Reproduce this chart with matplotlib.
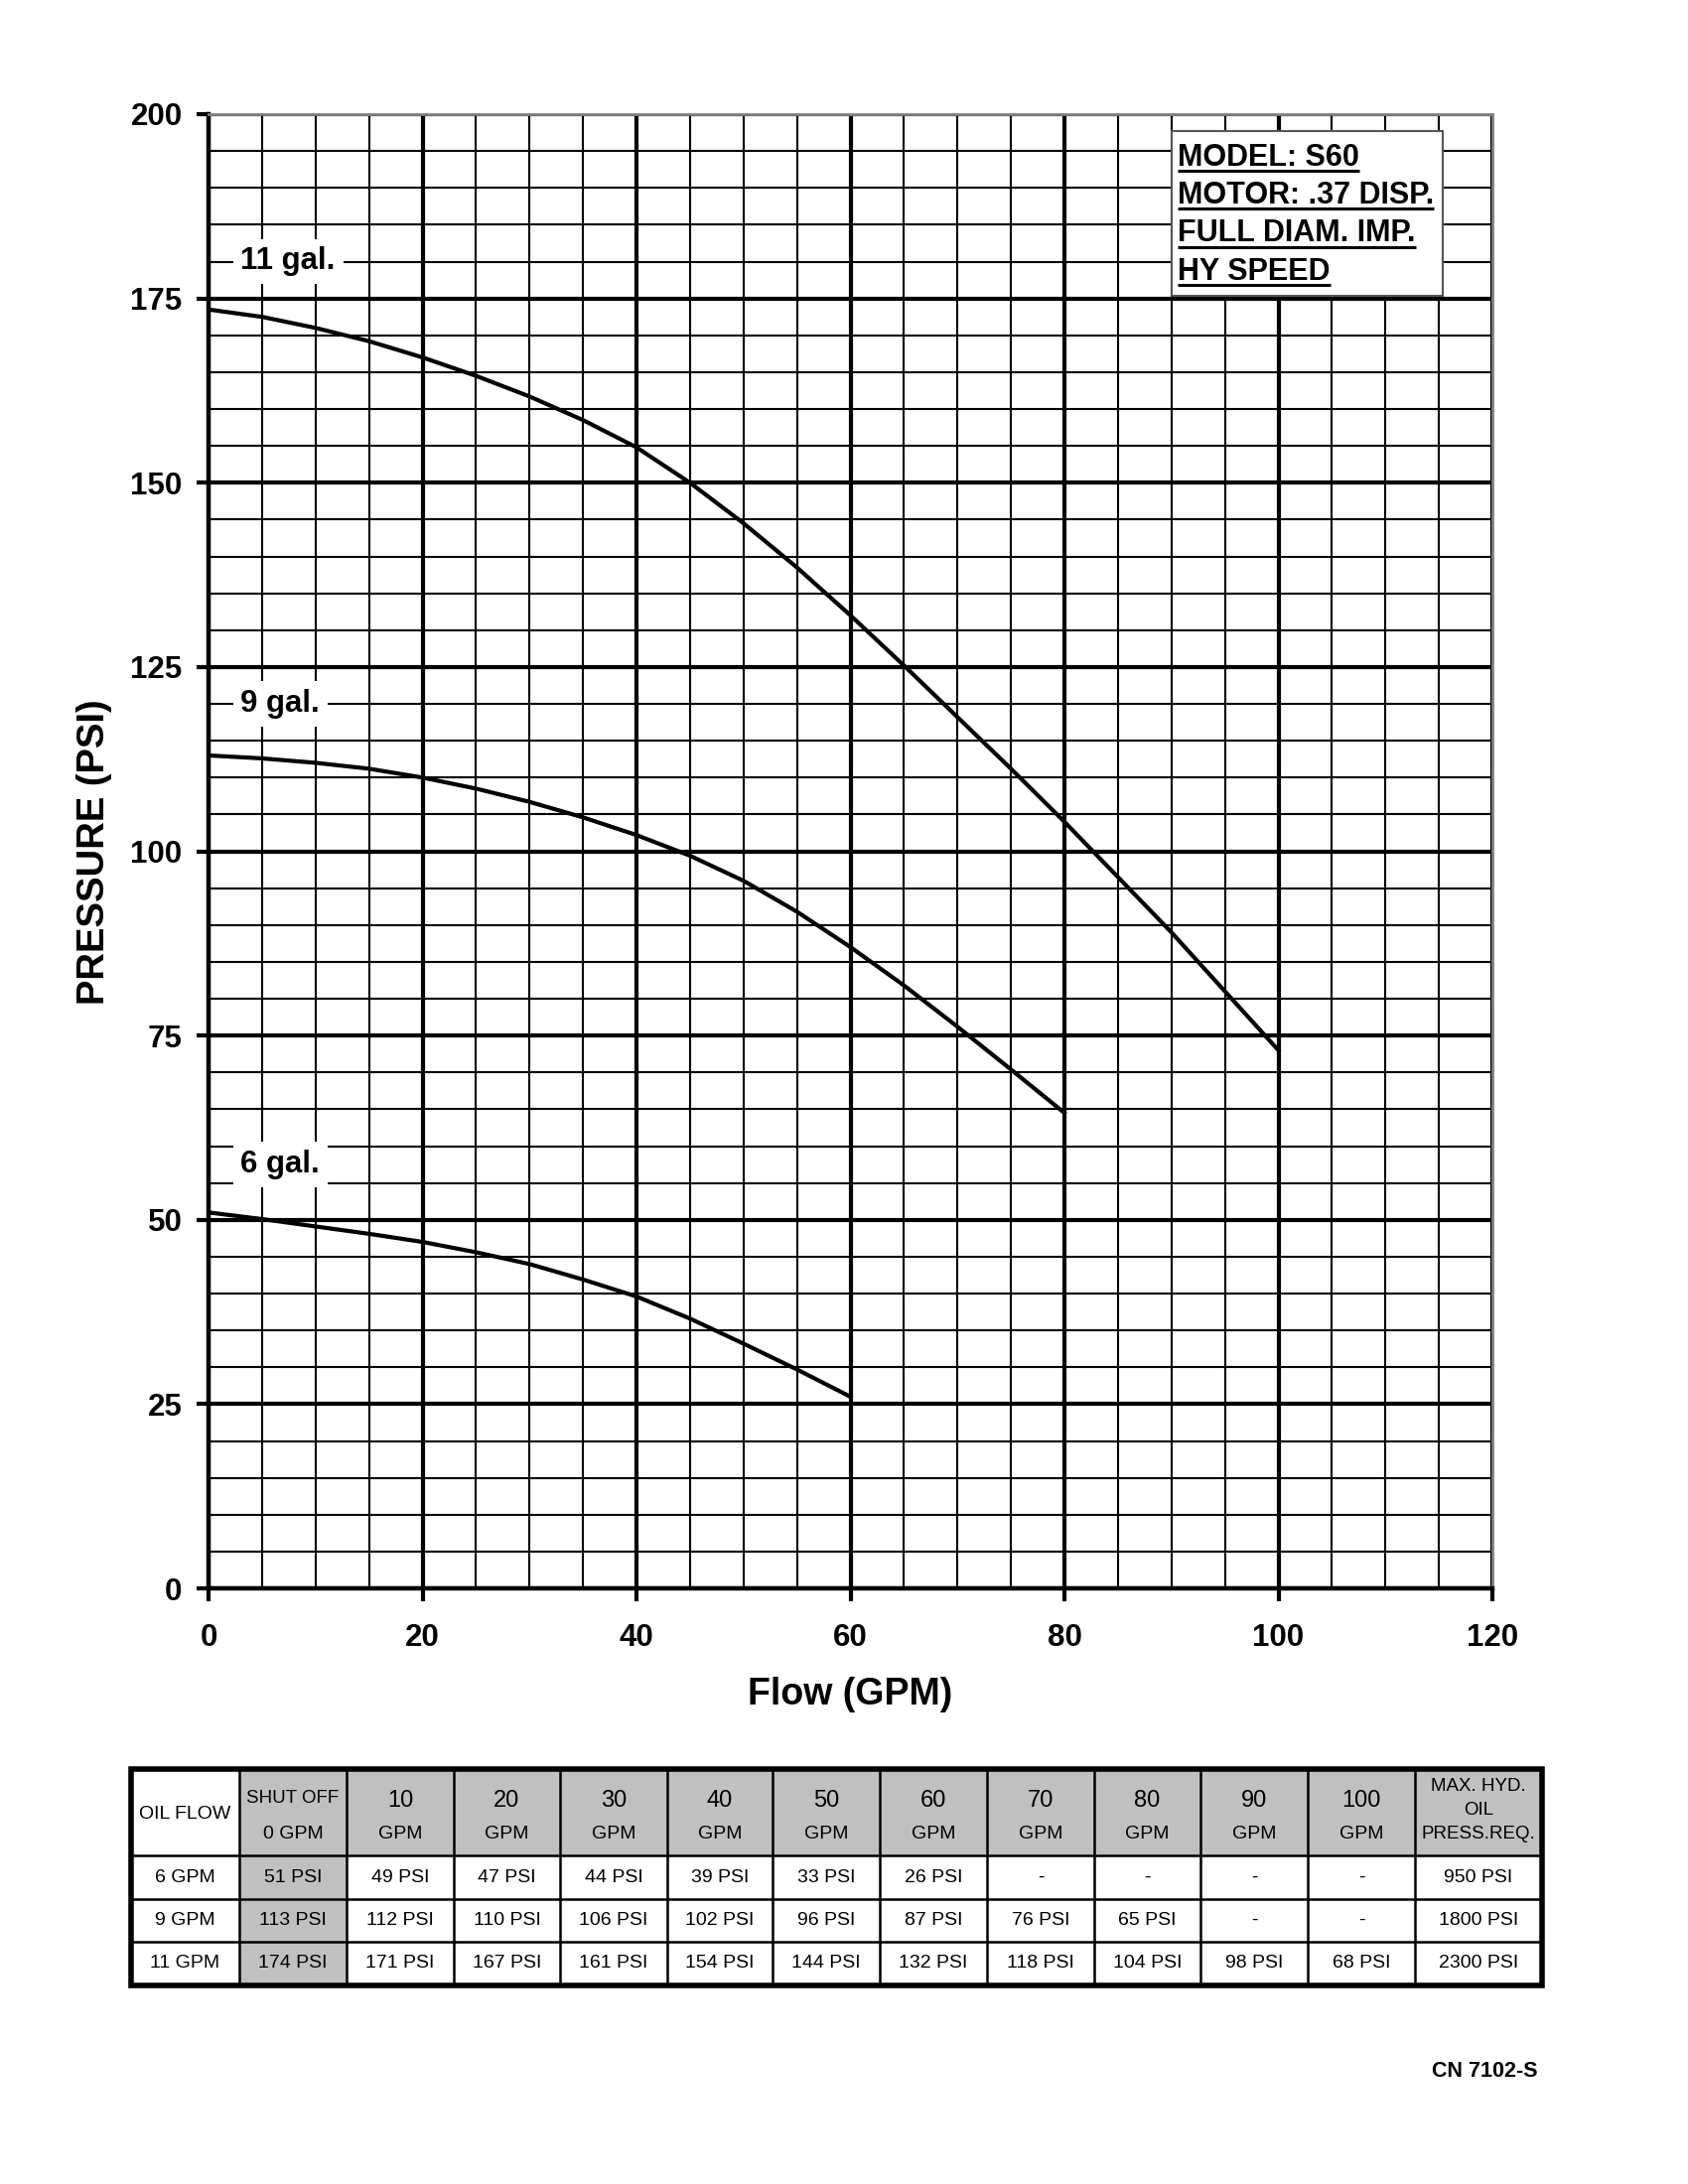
import matplotlib.pyplot as plt
from matplotlib.ticker import MultipleLocator
from matplotlib.patches import Rectangle

plt.rcParams['font.family'] = ['Liberation Sans', 'DejaVu Sans']

# curves (every 5 GPM)
flow_pts = [0, 5, 10, 15, 20, 25, 30, 35, 40, 45, 50, 55, 60, 65, 70, 75, 80, 85, 90, 95, 100]
curve_11 = [173.5, 172.5, 171, 169.2, 167, 164.5, 161.7, 158.5, 154.8, 150, 144.5, 138.5,
            132, 125.2, 118.2, 111.2, 104, 96.5, 89, 81, 73]
curve_9 = [113, 112.6, 112, 111.2, 110, 108.5, 106.7, 104.6, 102.2, 99.4, 96, 91.8, 87,
           81.8, 76.2, 70.4, 64.5]
curve_6 = [51, 50.1, 49.1, 48.1, 47, 45.6, 44, 41.9, 39.6, 36.6, 33.2, 29.7, 26]
curve_names = ["11 gal.", "9 gal.", "6 gal."]

model_lines = ["MODEL: S60", "MOTOR: .37 DISP.", "FULL DIAM. IMP.", "HY SPEED"]

# table
tbl_flows = ["10", "20", "30", "40", "50", "60", "70", "80", "90", "100"]
tbl_rows = ["6 GPM", "9 GPM", "11 GPM"]
tbl_shutoff = [51, 113, 174]
tbl_6 = [49, 47, 44, 39, 33, 26, None, None, None, None]
tbl_9 = [112, 110, 106, 102, 96, 87, 76, 65, None, None]
tbl_11 = [171, 167, 161, 154, 144, 132, 118, 104, 98, 68]
tbl_maxpress = [950, 1800, 2300]

fig = plt.figure(figsize=(17, 22), dpi=100)
fig.set(facecolor='white')

W, H = 1700, 2200
ax = fig.add_axes([210 / W, 1 - 1600 / H, (1503 - 210) / W, (1600 - 115) / H])
ax.set_xlim(0, 120)
ax.set_ylim(0, 200)

ax.xaxis.set_major_locator(MultipleLocator(20))
ax.xaxis.set_minor_locator(MultipleLocator(5))
ax.yaxis.set_major_locator(MultipleLocator(25))
ax.yaxis.set_minor_locator(MultipleLocator(5))
ax.grid(which='major', color='black', lw=3)
ax.grid(which='minor', color='black', lw=1.5)
ax.tick_params(which='major', direction='out', length=9, width=3, labelsize=22.5)
ax.tick_params(axis='y', which='major', pad=10)
ax.tick_params(axis='x', which='major', pad=16)
ax.tick_params(which='minor', length=0)
for lab in ax.get_xticklabels() + ax.get_yticklabels():
    lab.set_fontweight('bold')

for s in ['left', 'bottom']:
    ax.spines[s].set_linewidth(3.2)
for s in ['top', 'right']:
    ax.spines[s].set_linewidth(2)
    ax.spines[s].set_color('#808080')

for curve in [curve_11, curve_9, curve_6]:
    ax.plot(flow_pts[:len(curve)], curve, color='black', lw=3, zorder=4,
            solid_joinstyle='round')

# curve labels
for name, yy in zip(curve_names, [180, 120, 57.5]):
    ax.text(3.0, yy, name, fontsize=22.5, fontweight='bold', ha='left', va='center', zorder=5,
            bbox={'boxstyle': 'square,pad=0.25', 'facecolor': 'white', 'edgecolor': 'none'})

# model box
ax.add_patch(Rectangle((90, 175.4), 25.4, 22.3, facecolor='white', edgecolor='#555555',
                       lw=1.5, zorder=5))
model_txt = []
for i, line in enumerate(model_lines):
    t = ax.text(90.6, 193.0 - i * 5.15, line, fontsize=22, fontweight='bold',
                ha='left', va='baseline', zorder=6)
    model_txt.append(t)

fig.canvas.draw()
r = fig.canvas.get_renderer()
inv = ax.transData.inverted()
for t in model_txt:
    bb = t.get_window_extent(renderer=r)
    x0, _ = inv.transform((bb.x0, bb.y0))
    x1, _ = inv.transform((bb.x1, bb.y0))
    _, yb = t.get_position()
    ax.plot([x0, x1], [yb - 0.7, yb - 0.7], color='black', lw=2.2, zorder=6,
            solid_capstyle='butt')

fig.text(95 / W, 1 - 858 / H, "PRESSURE (PSI)", rotation=90, fontsize=27.5, fontweight='bold',
         ha='center', va='center')
fig.text(856 / W, 1 - 1707 / H, "Flow (GPM)", fontsize=27, fontweight='bold',
         ha='center', va='center')
fig.text(1549 / W, 1 - 2087 / H, "CN 7102-S", fontsize=15.5, fontweight='bold',
         ha='right', va='center')

# table
col_w = [109, 108, 108, 107, 108, 106, 108, 108, 108, 107, 108, 108, 128]
row_h = [87, 44, 43, 44]
tw, th = sum(col_w), sum(row_h)
tax = fig.add_axes([132 / W, 1 - 2000 / H, tw / W, th / H])
tax.set_xlim(0, tw)
tax.set_ylim(th, 0)
tax.axis('off')

gray = '#c0c0c0'
col_x = [sum(col_w[:i]) for i in range(len(col_w) + 1)]
row_y = [sum(row_h[:i]) for i in range(len(row_h) + 1)]

# header shading + shut off column shading
for c in range(1, len(col_w)):
    tax.add_patch(Rectangle((col_x[c], 0), col_w[c], row_h[0], facecolor=gray, edgecolor='none'))
tax.add_patch(Rectangle((col_x[1], row_y[1]), col_w[1], th - row_y[1], facecolor=gray,
                        edgecolor='none'))

for x in col_x[1:-1]:
    tax.plot([x, x], [0, th], color='black', lw=1.8)
for y in row_y[1:-1]:
    tax.plot([0, tw], [y, y], color='black', lw=1.8)
tax.add_patch(Rectangle((0, 0), tw, th, facecolor='none', edgecolor='black', lw=4,
                        zorder=5, clip_on=False))


def cx(c):
    return (col_x[c] + col_x[c + 1]) / 2


def ry(r_):
    return (row_y[r_] + row_y[r_ + 1]) / 2


fs = 14
tax.text(cx(0), 45, "OIL FLOW", fontsize=fs, ha='center', va='center')
tax.text(cx(1), 30, "SHUT OFF", fontsize=13.5, ha='center', va='center')
tax.text(cx(1), 66, "0 GPM", fontsize=fs, ha='center', va='center')
for i, f in enumerate(tbl_flows):
    tax.text(cx(i + 2), 32, f, fontsize=17, ha='center', va='center')
    tax.text(cx(i + 2), 66, "GPM", fontsize=fs, ha='center', va='center')
last = len(col_w) - 1
tax.text(cx(last), 18, "MAX. HYD.", fontsize=13.5, ha='center', va='center')
tax.text(cx(last), 41, "OIL", fontsize=13.5, ha='center', va='center')
tax.text(cx(last), 65, "PRESS.REQ.", fontsize=13.5, ha='center', va='center')

for r_, (lab, so, vals, mp) in enumerate(zip(tbl_rows, tbl_shutoff, [tbl_6, tbl_9, tbl_11],
                                           tbl_maxpress)):
    yy = ry(r_ + 1)
    tax.text(cx(0), yy, lab, fontsize=fs, ha='center', va='center')
    tax.text(cx(1), yy, f"{so} PSI", fontsize=fs, ha='center', va='center')
    for i, v in enumerate(vals):
        s = "-" if v is None else f"{v} PSI"
        tax.text(cx(i + 2), yy, s, fontsize=fs, ha='center', va='center')
    tax.text(cx(last), yy, f"{mp} PSI", fontsize=fs, ha='center', va='center')

fig.savefig("out.png", dpi=100)
